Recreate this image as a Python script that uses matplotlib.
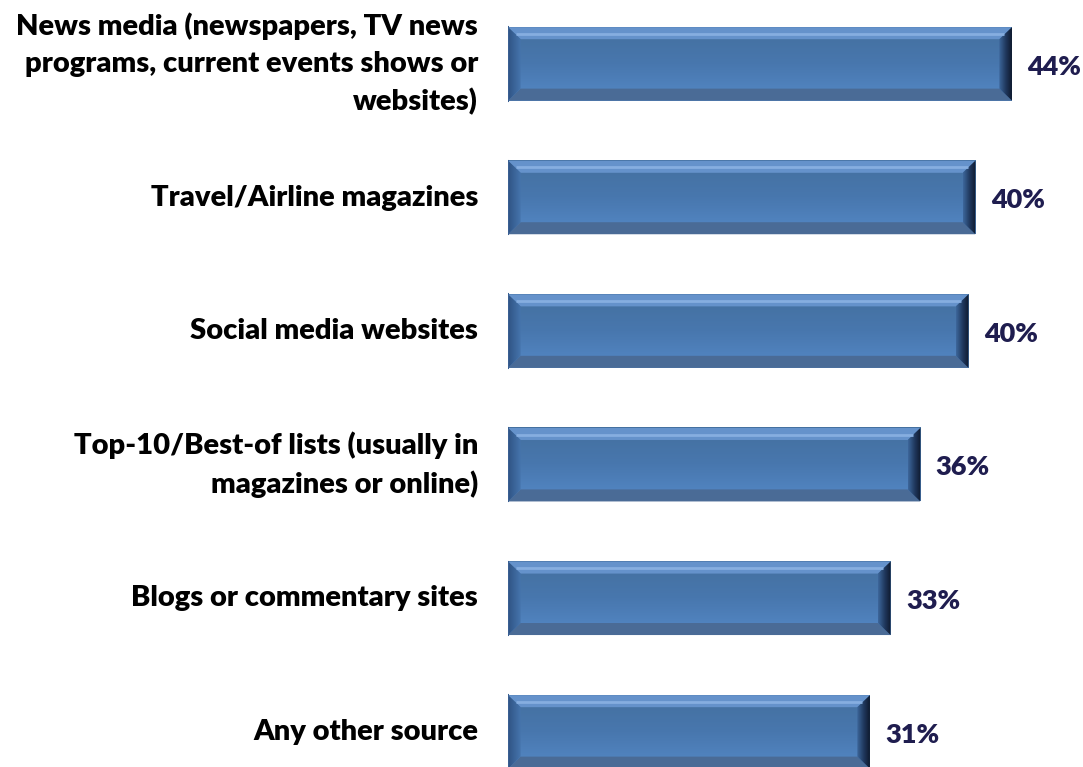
import numpy as np
import matplotlib as mpl
import matplotlib.pyplot as plt
from matplotlib.patches import Polygon
from matplotlib.colors import LinearSegmentedColormap

# data (bar lengths estimated from pixels, labels as printed)
categories = [
    'News media (newspapers, TV news\nprograms, current events shows or\nwebsites)',
    'Travel/Airline magazines',
    'Social media websites',
    'Top-10/Best-of lists (usually in\nmagazines or online)',
    'Blogs or commentary sites',
    'Any other source',
]
values = [44.0, 40.8, 40.2, 36.0, 33.4, 31.6]
value_labels = ['44%', '40%', '40%', '36%', '33%', '31%']

mpl.rcParams['font.family'] = ['Lato', 'DejaVu Sans']

fig = plt.figure(figsize=(10.83, 7.67), dpi=100)
ax = fig.add_axes([508 / 1083, -0.0065, 572.7 / 1083, 768.2 / 767])
ax.set_xlim(0, 50)
ax.set_ylim(5.3, -0.45)

bar_h = 0.55
bev_x = 1.1    # bevel width in data units (~12px)
bev_y = 0.09

face_cmap = LinearSegmentedColormap.from_list('face', ['#44709f', '#4877ae', '#5488c6'])
right_cmap = LinearSegmentedColormap.from_list('right', ['#3d679c', '#213a60', '#0e1a2e'])
left_cmap = LinearSegmentedColormap.from_list('left', ['#2f5384', '#4675ad'])
vgrad = np.linspace(0, 1, 64).reshape(-1, 1)
hgrad = np.linspace(0, 1, 64).reshape(1, -1)

for i, v in enumerate(values):
    y0, y1 = i - bar_h / 2, i + bar_h / 2
    # face with a vertical gradient
    ax.imshow(vgrad, extent=(0, v, y1, y0), cmap=face_cmap, aspect='auto',
              origin='upper', zorder=2, interpolation='bilinear')
    # bevels
    top = [(0, y0), (v, y0), (v - bev_x, y0 + bev_y), (bev_x, y0 + bev_y)]
    bot = [(0, y1), (v, y1), (v - bev_x, y1 - bev_y), (bev_x, y1 - bev_y)]
    left = [(0, y0), (bev_x, y0 + bev_y), (bev_x, y1 - bev_y), (0, y1)]
    right = [(v, y0), (v - bev_x, y0 + bev_y), (v - bev_x, y1 - bev_y), (v, y1)]
    ax.add_patch(Polygon(top, closed=True, fc='#6592cb', ec='none', zorder=3))
    ax.add_patch(Polygon(bot, closed=True, fc='#4a6b96', ec='none', zorder=3))
    lp = Polygon(left, closed=True, fc='none', ec='none', zorder=3)
    ax.add_patch(lp)
    im = ax.imshow(hgrad, extent=(0, bev_x, y1, y0), cmap=left_cmap, aspect='auto',
                   zorder=3, interpolation='bilinear')
    im.set_clip_path(lp)
    rp = Polygon(right, closed=True, fc='none', ec='none', zorder=3)
    ax.add_patch(rp)
    im = ax.imshow(hgrad, extent=(v - bev_x, v, y1, y0), cmap=right_cmap, aspect='auto',
                   zorder=3, interpolation='bilinear')
    im.set_clip_path(rp)
    # light line along the top edge
    ax.plot([bev_x * 0.6, v - bev_x * 0.6], [y0 + bev_y * 0.55] * 2, color='#86aee0',
            lw=2, zorder=4, solid_capstyle='butt')
    ax.plot([0, 0], [y0, y1], color='#3a5f92', lw=1.5, zorder=4)
    ax.text(v + 1.35, i + 0.02, value_labels[i], va='center', ha='left',
            fontsize=19.5, fontweight='heavy', color='#1f1d4f')

ax.set_yticks(range(len(categories)))
ax.set_yticklabels(categories, fontsize=21, fontweight='heavy', linespacing=1.5, va='center')
ax.tick_params(axis='y', length=0, pad=21.6)
ax.set_xticks([])
for s in ax.spines.values():
    s.set_visible(False)

plt.savefig('out.png', dpi=100)
